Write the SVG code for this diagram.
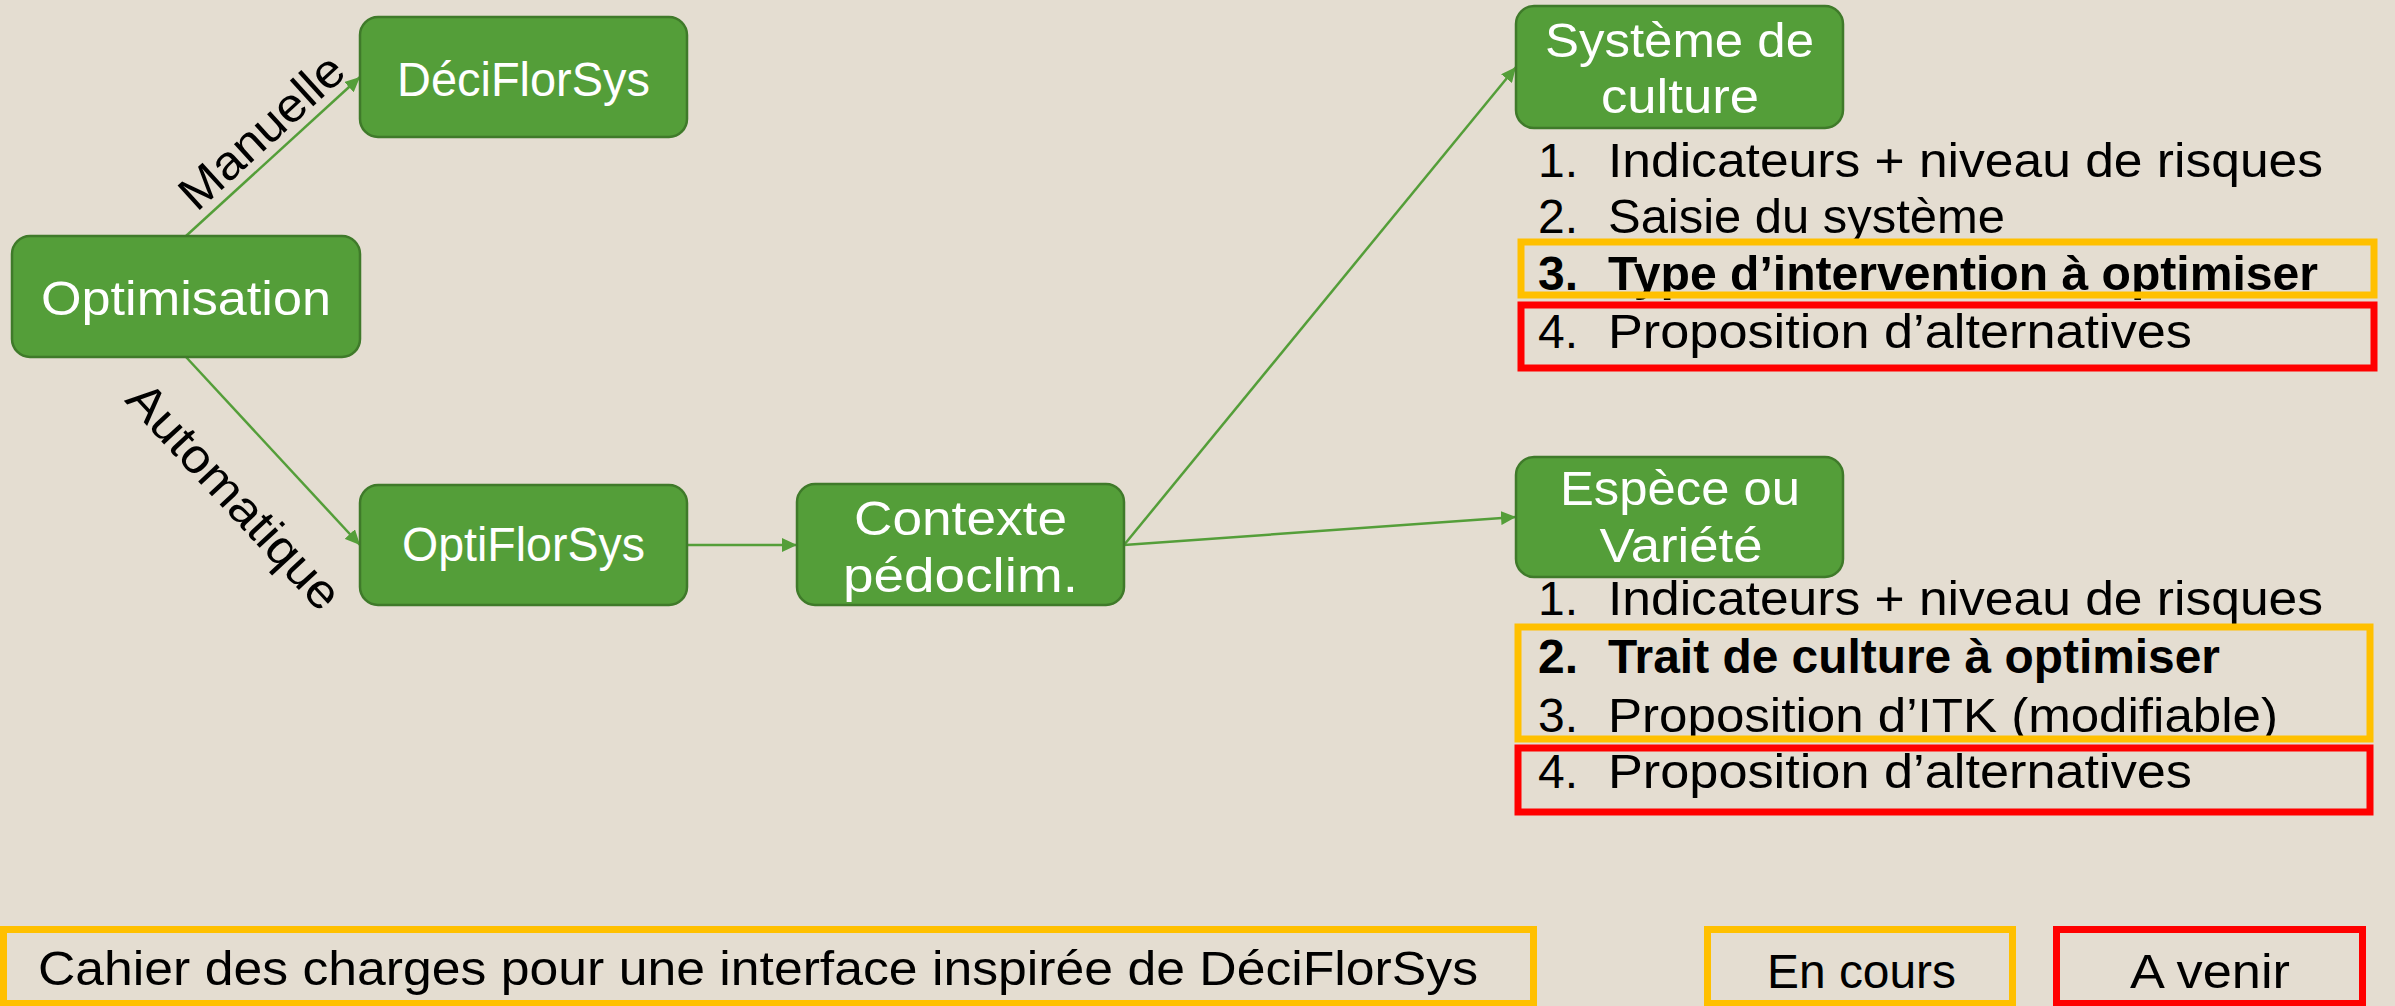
<svg xmlns="http://www.w3.org/2000/svg" width="2395" height="1006" viewBox="0 0 2395 1006">
<style>
.node rect{fill:#549E39;stroke:#3F7A2A;stroke-width:2.5}
.nt{font-family:"Liberation Sans",Arial,sans-serif;font-size:48px;fill:#FFFFFF;text-anchor:middle}
.t{font-family:"Liberation Sans",Arial,sans-serif;font-size:48px;fill:#000000}
.b{font-weight:bold}
.conn line{stroke:#549E39;stroke-width:2.5;fill:none;marker-end:url(#arr)}
.lbl{font-family:"Liberation Sans",Arial,sans-serif;font-size:48px;fill:#000000;text-anchor:middle}
.ob{fill:none;stroke:#FFC000;stroke-width:7}
.rb{fill:none;stroke:#FF0000;stroke-width:7}
</style>
<defs>
<marker id="arr" markerUnits="userSpaceOnUse" markerWidth="16" markerHeight="14" refX="15" refY="7" orient="auto">
<path d="M0,0 L15,7 L0,14 Z" fill="#549E39"/>
</marker>
</defs>
<rect x="0" y="0" width="2395" height="1006" fill="#E4DDD1"/>

<g id="connectors" class="conn">
<line x1="186" y1="236" x2="360" y2="77"/>
<line x1="186" y1="357" x2="360" y2="545"/>
<line x1="687" y1="545" x2="797" y2="545"/>
<line x1="1124" y1="545" x2="1516" y2="67"/>
<line x1="1124" y1="545" x2="1516" y2="517"/>
</g>

<g id="label-manuelle">
<text class="lbl" transform="translate(261,131) rotate(-42.4)" x="0" y="17" textLength="205" lengthAdjust="spacingAndGlyphs">Manuelle</text>
</g>
<g id="label-automatique">
<text class="lbl" transform="translate(231,499) rotate(47.2)" x="0" y="12" textLength="290" lengthAdjust="spacingAndGlyphs">Automatique</text>
</g>

<g id="node-optimisation" class="node">
<rect x="12" y="236" width="348" height="121" rx="18"/>
<text class="nt" x="186" y="315" textLength="290" lengthAdjust="spacingAndGlyphs">Optimisation</text>
</g>
<g id="node-deciflorsys" class="node">
<rect x="360" y="17" width="327" height="120" rx="18"/>
<text class="nt" x="523.5" y="96" textLength="253" lengthAdjust="spacingAndGlyphs">DéciFlorSys</text>
</g>
<g id="node-optiflorsys" class="node">
<rect x="360" y="485" width="327" height="120" rx="18"/>
<text class="nt" x="523.5" y="561" textLength="243" lengthAdjust="spacingAndGlyphs">OptiFlorSys</text>
</g>
<g id="node-contexte" class="node">
<rect x="797" y="484" width="327" height="121" rx="18"/>
<text class="nt" x="960.5" y="535" textLength="213" lengthAdjust="spacingAndGlyphs">Contexte</text>
<text class="nt" x="960.5" y="592" textLength="235" lengthAdjust="spacingAndGlyphs">pédoclim.</text>
</g>
<g id="node-systeme" class="node">
<rect x="1516" y="6" width="327" height="122" rx="18"/>
<text class="nt" x="1679.5" y="57" textLength="269" lengthAdjust="spacingAndGlyphs">Système de</text>
<text class="nt" x="1680" y="113" textLength="158" lengthAdjust="spacingAndGlyphs">culture</text>
</g>
<g id="node-espece" class="node">
<rect x="1516" y="457" width="327" height="120" rx="18"/>
<text class="nt" x="1680" y="505" textLength="240" lengthAdjust="spacingAndGlyphs">Espèce ou</text>
<text class="nt" x="1681" y="562" textLength="163" lengthAdjust="spacingAndGlyphs">Variété</text>
</g>

<g id="list-systeme">
<text class="t" x="1538" y="177">1.</text>
<text class="t" x="1608" y="177" textLength="715" lengthAdjust="spacingAndGlyphs">Indicateurs + niveau de risques</text>
<text class="t" x="1538" y="233">2.</text>
<text class="t" x="1608" y="233" textLength="397" lengthAdjust="spacingAndGlyphs">Saisie du système</text>
<text class="t b" x="1538" y="290">3.</text>
<text class="t b" x="1608" y="290" textLength="710" lengthAdjust="spacingAndGlyphs">Type d’intervention à optimiser</text>
<text class="t" x="1538" y="348">4.</text>
<text class="t" x="1608" y="348" textLength="584" lengthAdjust="spacingAndGlyphs">Proposition d’alternatives</text>
<rect class="ob" x="1521" y="242" width="853" height="53"/>
<rect class="rb" x="1521" y="305" width="853" height="63"/>
</g>

<g id="list-espece">
<text class="t" x="1538" y="615">1.</text>
<text class="t" x="1608" y="615" textLength="715" lengthAdjust="spacingAndGlyphs">Indicateurs + niveau de risques</text>
<text class="t b" x="1538" y="673">2.</text>
<text class="t b" x="1608" y="673" textLength="612" lengthAdjust="spacingAndGlyphs">Trait de culture à optimiser</text>
<text class="t" x="1538" y="732">3.</text>
<text class="t" x="1608" y="732" textLength="670" lengthAdjust="spacingAndGlyphs">Proposition d’ITK (modifiable)</text>
<text class="t" x="1538" y="788">4.</text>
<text class="t" x="1608" y="788" textLength="584" lengthAdjust="spacingAndGlyphs">Proposition d’alternatives</text>
<rect class="ob" x="1518" y="627" width="852" height="112"/>
<rect class="rb" x="1518" y="748" width="852" height="64"/>
</g>

<g id="legend">
<rect class="ob" x="3.5" y="929.5" width="1530" height="74"/>
<text class="t" x="758" y="985" text-anchor="middle" textLength="1440" lengthAdjust="spacingAndGlyphs">Cahier des charges pour une interface inspirée de DéciFlorSys</text>
<rect class="ob" x="1707.5" y="929.5" width="305" height="74"/>
<text class="t" x="1861.5" y="988" text-anchor="middle" textLength="189" lengthAdjust="spacingAndGlyphs">En cours</text>
<rect class="rb" x="2056.5" y="929.5" width="306" height="74"/>
<text class="t" x="2210" y="988" text-anchor="middle" textLength="160" lengthAdjust="spacingAndGlyphs">A venir</text>
</g>
</svg>
